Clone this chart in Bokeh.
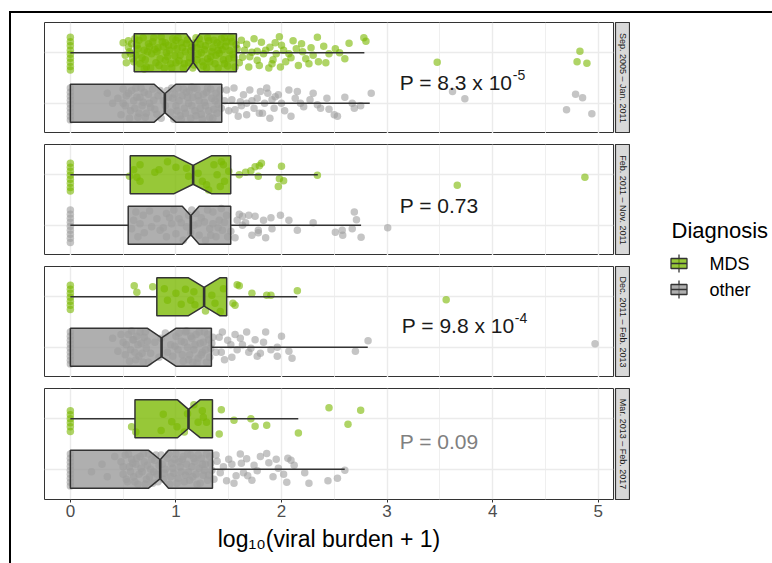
import math
from bokeh.plotting import figure
from bokeh.layouts import row, column
from bokeh.models import ColumnDataSource, Range1d, LinearAxis, FixedTicker, Grid
from bokeh.core.properties import value
from bokeh.embed import file_html
from bokeh.resources import INLINE

# ---------------- data ----------------
PERIODS = ["Sep. 2005 – Jan. 2011", "Feb. 2011 – Nov. 2011",
           "Dec. 2011 – Feb. 2013", "Mar. 2013 – Feb. 2017"]
GROUPS = ["MDS", "other"]
LEGEND_TITLE = "Diagnosis"
X_TICKS = [0, 1, 2, 3, 4, 5]
X_TICK_LABELS = ["0", "1", "2", "3", "4", "5"]
X_MINOR = [0.5, 1.5, 2.5, 3.5, 4.5]
X_TITLE = "log₁₀(viral burden + 1)"

# notched box statistics per period
MDS_WLO = [0.0, 0.0, 0.0, 0.0]
MDS_Q1 = [0.605, 0.567, 0.819, 0.612]
MDS_MED = [1.163, 1.163, 1.267, 1.119]
MDS_Q3 = [1.573, 1.519, 1.481, 1.346]
MDS_WHI = [2.785, 2.344, 2.149, 2.159]
MDS_NLO = [1.100, 0.983, 1.119, 1.015]
MDS_NHI = [1.226, 1.336, 1.415, 1.229]

OTH_WLO = [0.0, 0.0, 0.0, 0.0]
OTH_Q1 = [0.0, 0.548, 0.0, 0.0]
OTH_MED = [0.895, 1.141, 0.864, 0.851]
OTH_Q3 = [1.434, 1.519, 1.336, 1.346]
OTH_WHI = [2.836, 2.754, 2.817, 2.599]
OTH_NLO = [0.794, 1.060, 0.731, 0.741]
OTH_NHI = [0.999, 1.220, 0.999, 0.930]

P_TEXT = ["P = 8.3 x 10", "P = 0.73", "P = 9.8 x 10", "P = 0.09"]
P_SUP = ["-5", "", "-4", ""]
P_X = [3.12, 3.12, 3.14, 3.12]
P_Y = [1.41, 1.39, 1.43, 1.55]
P_GREY = [False, False, False, True]

# observations: (value, vertical jitter)
P1_MDS = [(0, 0.31), (0, 0.22), (0, 0.14), (0, 0.05), (0, -0.03), (0, -0.11), (0, -0.19), (0, -0.27), (0, -0.34),
          (0.55, 0.11), (0.57, -0.02), (0.59, -0.12), (0.61, 0.28), (0.58, 0.18), (0.60, -0.18), (0.55, 0.24), (0.52, -0.05),
          (0.5, 0.2), (0.53, -0.2), (0.56, 0.02),
          (0.65, 0.25), (0.68, -0.1), (0.70, 0.05), (0.72, -0.28), (0.74, 0.18), (0.77, -0.02), (0.79, 0.3), (0.81, -0.2),
          (0.83, 0.1), (0.85, -0.12), (0.87, 0.22), (0.89, -0.3), (0.91, 0.0), (0.93, 0.15), (0.95, -0.22), (0.97, 0.28),
          (0.99, -0.06), (1.01, 0.08), (1.03, -0.16), (1.05, 0.2), (1.07, -0.3), (1.09, 0.02), (1.11, 0.26), (1.13, -0.1),
          (1.15, 0.12), (1.17, -0.24), (1.19, 0.3), (1.21, -0.03), (1.23, 0.17), (1.25, -0.18), (1.27, 0.06), (1.29, -0.3),
          (1.31, 0.24), (1.33, -0.08), (1.35, 0.1), (1.37, -0.22), (1.39, 0.2), (1.41, -0.01), (1.43, 0.28), (1.45, -0.14),
          (1.47, 0.13), (1.49, -0.26), (1.51, 0.04), (1.53, 0.22), (1.55, -0.1), (1.57, 0.16), (0.75, 0.12), (0.9, -0.15),
          (1.0, 0.25), (1.2, 0.1), (1.3, -0.12), (1.4, 0.05), (0.82, 0.02), (1.12, -0.2), (1.46, 0.3),
          (0.62, -0.05), (0.64, 0.08), (0.66, -0.22), (0.69, 0.3), (0.71, -0.14), (0.73, 0.02), (0.76, -0.3), (0.78, 0.22),
          (0.8, 0.07), (0.84, -0.25), (0.86, 0.32), (0.88, 0.12), (0.9, 0.2), (0.92, -0.08), (0.94, 0.05), (0.96, -0.3),
          (0.98, 0.14), (1.0, -0.2), (1.02, 0.3), (1.04, -0.05), (1.06, 0.1), (1.08, -0.22), (1.1, 0.18), (1.14, 0.04),
          (1.16, -0.3), (1.18, 0.2), (1.2, -0.14), (1.22, 0.28), (1.24, 0.0), (1.26, -0.26), (1.28, 0.14), (1.3, 0.3),
          (1.32, -0.18), (1.34, 0.02), (1.36, 0.25), (1.38, -0.05), (1.4, -0.3), (1.42, 0.15), (1.44, 0.06), (1.46, -0.22),
          (1.48, 0.22), (1.5, -0.12), (1.52, 0.3), (1.54, -0.03), (1.56, -0.28), (0.63, 0.15), (0.7, -0.32), (1.58, 0.08),
          (1.6, -0.2), (1.62, 0.25),
          (1.67, 0.17), (1.72, 0.01), (1.77, -0.15), (1.81, 0.21), (1.83, -0.02), (1.89, 0.11), (1.91, -0.22), (1.95, -0.02),
          (1.98, 0.32), (2.0, 0.15), (2.07, -0.02), (2.11, 0.24), (2.14, 0.08), (2.19, 0.18), (2.23, -0.12), (2.26, -0.22),
          (2.34, 0.31), (2.35, -0.18), (2.4, 0.13), (2.45, -0.02), (2.51, 0.08), (2.64, 0.19), (2.78, 0.3), (2.8, 0.23),
          (1.92, -0.14), (2.04, -0.18), (1.99, -0.28), (1.79, -0.25), (1.63, -0.09), (1.69, -0.28), (1.77, 0.03),
          (1.65, 0.05), (1.7, -0.08), (1.74, 0.28), (1.85, 0.05), (1.88, -0.3), (1.94, 0.2), (2.02, 0.05), (2.09, -0.1),
          (2.16, -0.25), (2.2, 0.02), (2.28, 0.1), (2.3, -0.05), (2.42, -0.2), (2.55, 0.0), (2.6, -0.12),
          (3.475, -0.19), (4.827, 0.03), (4.80, -0.18), (4.893, -0.21)]
P1_OTHER = [(0, 0.3), (0, 0.22), (0, 0.14), (0, 0.06), (0, -0.02), (0, -0.1), (0, -0.18), (0, -0.26), (0, -0.33),
            (0.48, -0.23), (0.45, 0.1), (0.5, 0.28), (0.52, -0.05), (0.4, 0.0), (0.35, 0.2),
            (0.55, 0.2), (0.57, -0.15), (0.6, 0.05), (0.62, 0.3), (0.64, -0.28), (0.66, 0.12), (0.68, -0.05), (0.7, 0.22),
            (0.72, -0.2), (0.75, 0.0), (0.78, 0.28), (0.8, -0.12), (0.83, 0.15), (0.86, -0.3), (0.88, 0.05), (0.92, 0.25),
            (0.95, -0.18), (0.97, 0.1), (1.0, -0.05), (1.02, 0.3), (1.04, -0.25), (1.06, 0.15), (1.08, -0.1), (1.1, 0.22),
            (1.12, 0.0), (1.14, -0.3), (1.16, 0.12), (1.18, -0.15), (1.2, 0.28), (1.22, 0.05), (1.24, -0.22), (1.26, 0.18),
            (1.28, -0.05), (1.3, 0.3), (1.32, -0.28), (1.34, 0.1), (1.36, -0.12), (1.38, 0.2), (1.4, -0.02), (1.42, 0.26),
            (1.15, 0.32), (0.98, -0.32), (1.25, -0.32),
            (0.5, 0.0), (0.53, 0.15), (0.56, -0.3), (0.58, 0.25), (0.61, -0.1), (0.63, 0.12), (0.65, -0.2), (0.67, 0.3),
            (0.69, 0.02), (0.71, -0.28), (0.74, 0.18), (0.76, -0.08), (0.79, 0.06), (0.82, -0.22), (0.85, 0.25), (0.9, -0.05),
            (0.93, 0.12), (0.96, 0.3), (0.99, 0.18), (1.01, -0.15), (1.03, 0.05), (1.05, -0.32), (1.07, 0.28), (1.09, -0.2),
            (1.11, 0.12), (1.13, 0.25), (1.15, -0.05), (1.17, 0.3), (1.19, -0.25), (1.21, 0.15), (1.23, -0.1), (1.27, 0.02),
            (1.29, 0.22), (1.31, -0.15), (1.33, 0.28), (1.35, -0.3), (1.37, 0.05), (1.39, -0.2), (1.41, 0.12), (1.43, -0.1),
            (1.48, 0.26), (1.53, 0.07), (1.56, -0.13), (1.59, -0.26), (1.64, 0.17), (1.67, 0.0), (1.7, 0.26), (1.74, -0.1),
            (1.77, 0.1), (1.8, 0.23), (1.84, 0.0), (1.87, 0.2), (1.89, -0.3), (1.91, 0.07), (1.93, -0.1), (1.97, 0.17),
            (2.0, 0.0), (2.07, 0.26), (2.09, -0.26), (2.13, 0.1), (2.15, 0.23), (2.21, -0.07), (2.27, 0.07), (2.34, -0.03),
            (2.37, -0.1), (2.43, 0.1), (2.5, -0.23), (2.53, -0.26), (2.67, 0.0), (2.69, -0.1), (2.85, 0.2), (1.61, 0.03),
            (1.79, -0.2), (1.67, -0.23), (1.94, 0.13),
            (1.46, 0.05), (1.5, -0.15), (1.55, 0.3), (1.62, -0.05), (1.72, 0.05), (1.82, -0.2), (1.86, 0.3), (2.03, -0.15),
            (2.18, 0.0), (2.3, 0.2), (2.45, -0.12), (2.6, 0.12), (2.75, -0.05),
            (3.62, 0.23), (3.737, 0.09), (4.786, 0.18), (4.852, 0.11), (4.70, -0.13), (4.94, -0.21)]

P2_MDS = [(0, 0.23), (0, 0.15), (0, 0.07), (0, -0.01), (0, -0.09), (0, -0.17), (0, -0.25), (0, -0.32),
          (0.6, 0.1), (0.63, -0.05), (0.66, 0.2), (0.8, 0.05), (0.84, 0.1), (1.0, 0.15), (1.1, 0.13), (1.12, -0.03),
          (1.21, 0.03), (1.25, -0.13), (1.29, -0.2), (1.31, -0.3), (1.36, 0.2), (1.39, 0.0), (1.43, 0.26), (1.45, 0.2),
          (1.46, -0.13), (1.42, -0.23), (1.5, 0.07), (0.66, -0.13), (0.92, 0.26), (0.56, -0.03),
          (1.6, 0.0), (1.66, 0.05), (1.71, 0.08), (1.75, 0.16), (1.79, 0.18), (1.81, 0.23), (1.78, -0.03), (2.0, 0.17),
          (1.98, -0.08), (2.02, -0.12), (1.97, -0.23), (2.34, -0.01),
          (3.665, -0.21), (4.874, -0.05)]
P2_OTHER = [(0, 0.3), (0, 0.22), (0, 0.14), (0, 0.06), (0, -0.02), (0, -0.1), (0, -0.18), (0, -0.26), (0, -0.34),
            (0.58, -0.07), (0.62, 0.26), (0.64, -0.23), (0.66, 0.03), (0.82, 0.13), (0.85, -0.1), (0.91, 0.23), (0.96, 0.03),
            (1.0, -0.17), (1.03, 0.13), (1.1, -0.03), (1.19, 0.23), (1.22, -0.2), (1.27, 0.07), (1.32, -0.07), (1.35, 0.26),
            (1.38, -0.23), (1.41, 0.1), (1.44, -0.1), (1.48, 0.2), (1.49, -0.23), (0.91, -0.23), (0.77, -0.03), (1.15, 0.3),
            (1.28, -0.3), (1.07, -0.3), (1.35, 0.03), (1.43, 0.33), (0.98, 0.3), (0.69, 0.2), (1.21, 0.03),
            (0.6, 0.1), (0.7, -0.15), (0.75, 0.28), (0.88, -0.05), (0.94, 0.15), (1.05, 0.05), (1.12, 0.2), (1.14, -0.15),
            (1.17, 0.0), (1.24, 0.15), (1.3, 0.3), (1.33, -0.2), (1.4, -0.05), (1.46, 0.06), (1.52, -0.12), (1.56, -0.25),
            (1.66, 0.05), (1.72, -0.2), (1.85, -0.25), (2.15, -0.1),
            (3.006, -0.05), (2.754, -0.24), (2.69, 0.26), (2.71, 0.11), (2.51, -0.14), (2.575, -0.1), (2.67, -0.07),
            (2.58, -0.2), (2.3, 0.05), (2.07, 0.1), (1.99, 0.2), (1.9, 0.15), (1.83, 0.1), (1.91, -0.07), (1.78, -0.1),
            (1.75, 0.18), (1.69, 0.2), (1.63, 0.18), (1.6, 0.22), (1.58, 0.1), (1.78, -0.15), (1.63, 0.0)]

P3_MDS = [(0, 0.23), (0, 0.15), (0, 0.07), (0, -0.01), (0, -0.09), (0, -0.17), (0, -0.25),
          (0.605, 0.22), (0.63, 0.09), (0.89, 0.16), (0.92, -0.07), (1.0, 0.07), (1.09, 0.15), (1.17, 0.1), (1.18, -0.16),
          (1.28, -0.28), (1.34, 0.03), (1.37, -0.13), (1.42, -0.29), (1.45, 0.16), (1.54, -0.13), (1.56, -0.17),
          (1.58, 0.24), (1.6, 0.22), (1.72, 0.07), (1.86, 0.03), (1.9, 0.03), (2.15, 0.12), (0.78, 0.2), (1.14, -0.07),
          (1.05, -0.15),
          (3.56, -0.06)]
P3_OTHER = [(0, 0.3), (0, 0.22), (0, 0.14), (0, 0.06), (0, -0.02), (0, -0.1), (0, -0.18), (0, -0.26), (0, -0.33),
            (0.5, 0.1), (0.52, -0.15), (0.55, 0.25), (0.57, -0.05), (0.6, 0.15), (0.62, -0.25), (0.64, 0.05), (0.66, 0.3),
            (0.68, -0.12), (0.7, 0.2), (0.72, -0.02), (0.74, -0.3), (0.8, 0.1), (0.84, -0.2), (0.9, 0.28), (0.95, 0.05),
            (0.97, -0.18), (1.0, 0.22), (1.02, -0.05), (1.05, 0.12), (1.07, -0.28), (1.09, 0.3), (1.11, 0.0), (1.13, -0.15),
            (1.15, 0.18), (1.17, -0.05), (1.19, 0.25), (1.21, -0.22), (1.23, 0.08), (1.25, -0.1), (1.27, 0.3), (1.29, -0.3),
            (1.31, 0.15), (1.33, -0.02), (1.35, 0.2), (1.1, 0.32), (0.58, 0.32), (0.45, -0.08), (0.4, 0.18), (1.2, -0.32),
            (0.48, 0.25), (0.53, 0.05), (0.56, -0.28), (0.59, 0.15), (0.61, -0.1), (0.63, 0.22), (0.65, -0.18), (0.67, 0.08),
            (0.69, -0.3), (0.71, 0.3), (0.73, 0.12), (0.76, -0.12), (0.86, 0.18), (0.92, -0.1), (0.99, 0.02), (1.03, 0.28),
            (1.06, -0.15), (1.08, 0.1), (1.12, -0.25), (1.14, 0.22), (1.16, -0.3), (1.18, 0.05), (1.22, 0.3), (1.24, -0.15),
            (1.26, 0.1), (1.28, -0.05), (1.3, 0.25), (1.32, -0.2), (1.34, 0.08), (1.38, -0.1), (1.41, 0.2), (1.46, -0.25),
            (1.52, 0.05), (1.56, 0.25), (1.75, 0.15), (1.9, -0.05), (2.0, 0.22),
            (2.82, 0.13), (2.7, -0.08), (2.1, -0.22), (2.07, -0.08), (1.96, 0.0), (1.96, -0.18), (1.85, 0.3), (1.83, 0.1),
            (1.8, -0.12), (1.71, -0.02), (1.67, 0.3), (1.61, 0.18), (1.58, -0.05), (1.53, -0.2), (1.49, 0.14), (1.44, 0.3),
            (1.43, -0.1), (1.69, -0.1), (1.77, -0.18), (1.63, 0.05),
            (4.97, 0.07)]

P4_MDS = [(0, 0.16), (0, 0.08), (0, 0.0), (0, -0.08), (0, -0.16), (0, -0.25),
          (0.58, -0.16), (0.62, -0.26), (0.88, 0.09), (0.86, -0.23), (1.01, -0.16), (1.08, -0.26), (1.17, 0.28),
          (1.25, 0.16), (1.26, 0.03), (1.21, -0.07), (1.29, -0.07), (1.43, 0.18), (1.41, -0.3), (1.55, -0.03),
          (1.71, 0.0), (1.75, -0.15), (1.86, -0.13), (2.16, -0.28), (2.45, 0.22), (2.63, -0.11), (2.75, 0.17),
          (0.96, -0.06), (1.11, 0.1)]
P4_OTHER = [(0, 0.3), (0, 0.22), (0, 0.14), (0, 0.06), (0, -0.02), (0, -0.1), (0, -0.18), (0, -0.26), (0, -0.33),
            (0.48, 0.15), (0.5, -0.1), (0.52, 0.28), (0.54, -0.25), (0.56, 0.05), (0.58, 0.2), (0.6, -0.15), (0.62, 0.1),
            (0.64, -0.3), (0.66, 0.25), (0.68, -0.05), (0.7, 0.15), (0.72, -0.2), (0.74, 0.3), (0.76, 0.0), (0.78, -0.28),
            (0.8, 0.18), (0.82, -0.1), (0.84, 0.08), (0.86, 0.28), (0.88, -0.2), (0.9, 0.0), (0.92, 0.22), (0.94, -0.3),
            (0.96, 0.12), (0.98, -0.08), (1.0, 0.3), (1.02, -0.18), (1.04, 0.05), (1.06, 0.2), (1.08, -0.25), (1.1, 0.1),
            (1.12, -0.05), (1.14, 0.28), (1.16, -0.15), (1.18, 0.15), (1.2, -0.3), (1.22, 0.02), (1.24, 0.22), (1.26, -0.12),
            (1.28, 0.1), (1.3, -0.22), (1.32, 0.25), (1.34, -0.02), (0.3, 0.1), (0.35, -0.15), (0.42, 0.25), (0.2, -0.05),
            (0.5, 0.05), (0.53, -0.2), (0.55, 0.3), (0.57, -0.05), (0.59, 0.12), (0.61, -0.25), (0.63, 0.22), (0.65, -0.1),
            (0.67, 0.02), (0.69, 0.3), (0.71, -0.3), (0.73, 0.08), (0.75, -0.15), (0.77, 0.2), (0.79, -0.05), (0.81, 0.28),
            (0.83, -0.25), (0.87, 0.1), (0.89, -0.08), (0.93, 0.3), (0.95, -0.15), (0.97, 0.02), (0.99, 0.2), (1.01, -0.28),
            (1.03, 0.15), (1.05, -0.05), (1.07, 0.25), (1.09, -0.12), (1.11, 0.3), (1.13, -0.22), (1.15, 0.05), (1.17, 0.22),
            (1.19, -0.1), (1.21, 0.28), (1.23, -0.28), (1.25, 0.1), (1.27, -0.02), (1.29, 0.3), (1.31, -0.12), (1.33, 0.12),
            (1.36, -0.2), (1.38, 0.28), (1.45, 0.05), (1.5, 0.2), (1.55, -0.28), (1.62, 0.12), (1.72, -0.22), (1.8, 0.25),
            (1.95, 0.2), (2.02, -0.1), (2.12, 0.08),
            (1.86, 0.31), (2.06, 0.22), (2.09, 0.18), (1.97, 0.02), (1.92, -0.15), (2.05, -0.26), (2.22, -0.07),
            (2.26, -0.28), (2.44, -0.23), (2.53, -0.18), (2.6, -0.02), (1.74, 0.08), (1.67, 0.21), (1.61, 0.3),
            (1.57, -0.13), (1.53, 0.1), (1.48, -0.23), (1.42, -0.07), (1.68, -0.13), (1.77, -0.03), (1.88, 0.13),
            (1.64, -0.07), (1.39, 0.16)]

POINTS = [[P1_MDS, P1_OTHER], [P2_MDS, P2_OTHER], [P3_MDS, P3_OTHER], [P4_MDS, P4_OTHER]]

# ---------------- style ----------------
FONT = "Liberation Sans"
GREEN = "#7AB800"
GREY = "#999999"
FILLS = [GREEN, GREY]
PT_COLORS = [GREEN, "#9E9E9E"]
DARK = "#333333"
GRIDC = "#EBEBEB"
Y_POS = [2.0, 1.0]       # MDS on top, other below
HALF = 0.375

X_RANGE = Range1d(-0.245, 5.145)

LEFT = 33
FRAME_W = 569
FRAME_H = 111
GAP = 11
TOP0 = 9
BOTTOM = 64
STRIP_W = 16
LEG_W = 143


def make_panel(i):
    last = i == 3
    top = TOP0 if i == 0 else GAP
    bottom = BOTTOM if last else 0
    p = figure(width=LEFT + FRAME_W + 1, height=top + FRAME_H + bottom,
               x_range=X_RANGE, y_range=Range1d(0.4, 2.6),
               x_axis_type=None, y_axis_type=None, title=None,
               toolbar_location=None, output_backend="svg",
               min_border_left=LEFT, min_border_right=1,
               min_border_top=top, min_border_bottom=bottom)
    p.outline_line_color = DARK
    p.outline_line_width = 1
    p.background_fill_color = "white"
    p.border_fill_color = "white"

    xt = FixedTicker(ticks=X_TICKS, minor_ticks=X_MINOR)
    gx = Grid(dimension=0, ticker=xt, grid_line_color=GRIDC, grid_line_width=1.4,
              minor_grid_line_color=GRIDC, minor_grid_line_width=0.8)
    gy = Grid(dimension=1, ticker=FixedTicker(ticks=Y_POS), grid_line_color=GRIDC, grid_line_width=1.4)
    p.add_layout(gx)
    p.add_layout(gy)

    stats = [
        (MDS_WLO[i], MDS_Q1[i], MDS_NLO[i], MDS_MED[i], MDS_NHI[i], MDS_Q3[i], MDS_WHI[i]),
        (OTH_WLO[i], OTH_Q1[i], OTH_NLO[i], OTH_MED[i], OTH_NHI[i], OTH_Q3[i], OTH_WHI[i]),
    ]
    polys_x, polys_y = [], []
    for g in range(2):
        wlo, q1, nlo, med, nhi, q3, whi = stats[g]
        yc = Y_POS[g]
        polys_x.append([q1, nlo, med, nhi, q3, q3, nhi, med, nlo, q1])
        polys_y.append([yc - HALF, yc - HALF, yc - HALF / 2, yc - HALF, yc - HALF,
                        yc + HALF, yc + HALF, yc + HALF / 2, yc + HALF, yc + HALF])
    box_src = ColumnDataSource(dict(xs=polys_x, ys=polys_y, fill=FILLS))
    p.patches("xs", "ys", source=box_src, fill_color="fill", fill_alpha=0.78, line_color=None)

    # jittered observations
    for g in range(2):
        pts = POINTS[i][g]
        xs = [a for a, b in pts]
        ys = [Y_POS[g] + b for a, b in pts]
        p.scatter(xs, ys, size=7.5, fill_color=PT_COLORS[g], fill_alpha=0.6, line_color=None)

    # outlines, whiskers, medians
    p.patches("xs", "ys", source=box_src, fill_color=None, line_color=DARK, line_width=1.5)
    wx0, wx1, wy, mx, my0, my1 = [], [], [], [], [], []
    for g in range(2):
        wlo, q1, nlo, med, nhi, q3, whi = stats[g]
        yc = Y_POS[g]
        wx0 += [wlo, q3]
        wx1 += [q1, whi]
        wy += [yc, yc]
        mx.append(med)
        my0.append(yc - HALF / 2)
        my1.append(yc + HALF / 2)
    p.segment(wx0, wy, wx1, wy, line_color=DARK, line_width=1.5)
    p.segment(mx, my0, mx, my1, line_color=DARK, line_width=2.6)

    # P value annotation
    col = "#808080" if P_GREY[i] else "#1A1A1A"
    p.text([P_X[i]], [P_Y[i]], text=[P_TEXT[i]], text_font=value(FONT), text_font_size="21px",
           text_color=col, text_align="left", text_baseline="middle")
    if P_SUP[i]:
        p.text([P_X[i]], [P_Y[i]], text=[P_SUP[i]], text_font=value(FONT), text_font_size="14px",
               text_color=col, text_align="left", text_baseline="middle", x_offset=113, y_offset=-8)

    if last:
        ax = LinearAxis(ticker=FixedTicker(ticks=X_TICKS),
                        major_label_overrides={t: l for t, l in zip(X_TICKS, X_TICK_LABELS)},
                        axis_line_color=None, major_tick_line_color=DARK, major_tick_out=3,
                        major_tick_in=0, minor_tick_line_color=None,
                        major_label_text_font=FONT, major_label_text_font_size="17px",
                        major_label_text_color="#4D4D4D", major_label_standoff=2,
                        axis_label=X_TITLE, axis_label_text_font=FONT,
                        axis_label_text_font_size="23px", axis_label_text_font_style="normal",
                        axis_label_text_color="#000000", axis_label_standoff=6)
        p.add_layout(ax, "below")
    return p


def make_strip(i):
    last = i == 3
    top = TOP0 if i == 0 else GAP
    bottom = BOTTOM if last else 0
    s = figure(width=STRIP_W, height=top + FRAME_H + bottom,
               x_range=Range1d(0, 1), y_range=Range1d(0, 1),
               x_axis_type=None, y_axis_type=None, title=None,
               toolbar_location=None, output_backend="svg",
               min_border_left=1, min_border_right=1,
               min_border_top=top, min_border_bottom=bottom)
    s.background_fill_color = "#D9D9D9"
    s.border_fill_color = "white"
    s.outline_line_color = DARK
    s.outline_line_width = 1.2
    s.text([0.5], [0.5], text=[PERIODS[i]], angle=-math.pi / 2, text_font=value(FONT),
           text_font_size="9px", text_color="#1A1A1A", text_align="center", text_baseline="middle")
    return s


rows = [row(make_panel(i), make_strip(i)) for i in range(4)]
panels = column(*rows)

TOTAL_H = TOP0 + 4 * FRAME_H + 3 * GAP + BOTTOM
leg = figure(width=LEG_W, height=TOTAL_H, x_range=Range1d(0, LEG_W), y_range=Range1d(TOTAL_H, 0),
             x_axis_type=None, y_axis_type=None, title=None, toolbar_location=None,
             output_backend="svg", min_border=0)
leg.outline_line_color = None
leg.grid.visible = False
leg.text([41], [217], text=[LEGEND_TITLE], text_font=value(FONT), text_font_size="22px",
         text_color="#000000", text_align="left", text_baseline="middle")
key_y = [250, 276]
leg.segment([48.5, 48.5], [y - 9 for y in key_y], [48.5, 48.5], [y + 9 for y in key_y],
            line_color=DARK, line_width=1.3)
leg.rect([48.5, 48.5], key_y, width=16, height=10, fill_color=FILLS, fill_alpha=0.78,
         line_color=DARK, line_width=1.3)
leg.segment([40.5, 40.5], key_y, [56.5, 56.5], key_y, line_color=DARK, line_width=1.3)
leg.text([79, 79], key_y, text=GROUPS, text_font=value(FONT), text_font_size="18px",
         text_color="#000000", text_align="left", text_baseline="middle")

root = row(panels, leg, margin=(11, 0, 0, 9),
           styles={"border-top": "2px solid black", "border-left": "2px solid black"})

open("out.html", "w").write(file_html(root, INLINE))
